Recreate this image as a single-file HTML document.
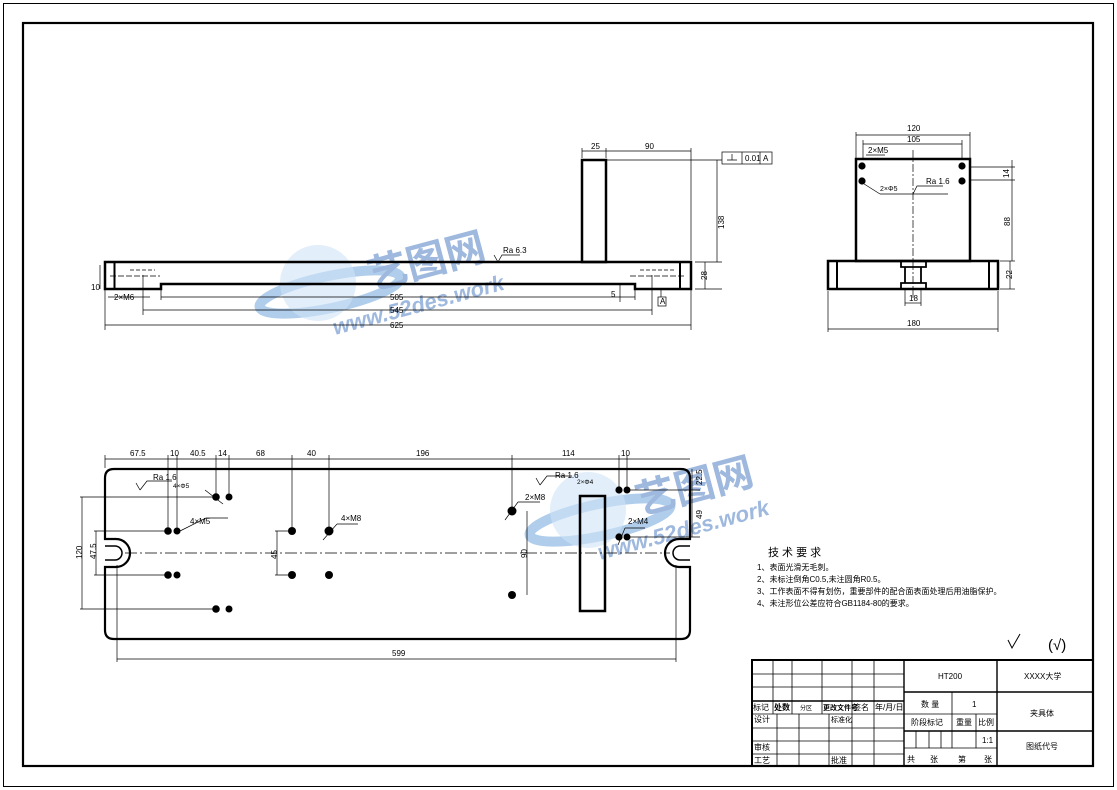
<!DOCTYPE html>
<html><head><meta charset="utf-8"><style>
html,body{margin:0;padding:0;background:#fff}
svg{display:block}
text{font-family:"Liberation Sans","Noto Sans CJK SC",sans-serif;fill:#000}
.t{font-size:8px}
.c{font-size:9px}
</style></head><body>
<svg width="1117" height="790" viewBox="0 0 1117 790" xmlns="http://www.w3.org/2000/svg">
<rect x="0" y="0" width="1117" height="790" fill="#fff"/>
<rect x="3.5" y="3.5" width="1110" height="783" fill="none" stroke="#000" stroke-width="1"/>
<rect x="23" y="23" width="1070" height="743" fill="none" stroke="#000" stroke-width="2.2"/>

<!-- watermark -->
<g opacity="0.55">
<ellipse cx="330" cy="292" rx="72" ry="16" fill="none" stroke="#6fa6dc" stroke-width="10" transform="rotate(-12 330 292)"/>
<circle cx="318" cy="283" r="38" fill="#a9cdf0" opacity="0.6"/>
<text x="372" y="290" font-size="40" fill="#4f7fc4" style="fill:#4f7fc4;font-weight:bold" transform="rotate(-15 372 290)">艺图网</text>
<text x="335" y="335" font-size="22" style="fill:#4f7fc4;font-weight:bold;font-style:italic" transform="rotate(-15 335 335)">www.52des.work</text>
<ellipse cx="600" cy="520" rx="72" ry="16" fill="none" stroke="#6fa6dc" stroke-width="10" transform="rotate(-12 600 520)"/>
<circle cx="588" cy="510" r="38" fill="#a9cdf0" opacity="0.6"/>
<text x="640" y="515" font-size="40" style="fill:#4f7fc4;font-weight:bold" transform="rotate(-15 640 515)">艺图网</text>
<text x="600" y="560" font-size="22" style="fill:#4f7fc4;font-weight:bold;font-style:italic" transform="rotate(-15 600 560)">www.52des.work</text>
</g>

<!-- FRONT VIEW -->
<g fill="none" stroke="#000">
<path d="M105 262 H691 V289 H635 V284 H161 V289 H105 Z" stroke-width="2.5"/>
<rect x="582" y="160" width="24" height="102" stroke-width="2.5"/>
<line x1="114.5" y1="262" x2="114.5" y2="289" stroke-width="2"/>
<line x1="680" y1="262" x2="680" y2="289" stroke-width="2"/>
<g stroke-width="0.7">
<line x1="105" y1="290" x2="105" y2="330"/><line x1="691" y1="290" x2="691" y2="330"/>
<line x1="105" y1="325" x2="691" y2="325"/>
<line x1="143" y1="275" x2="143" y2="315"/><line x1="652" y1="275" x2="652" y2="315"/>
<line x1="143" y1="310" x2="652" y2="310"/>
<line x1="161" y1="290" x2="161" y2="300"/><line x1="635" y1="290" x2="635" y2="300"/>
<line x1="161" y1="297" x2="635" y2="297"/>
<line x1="582" y1="148" x2="582" y2="158"/><line x1="606" y1="148" x2="606" y2="158"/><line x1="691" y1="148" x2="691" y2="260"/>
<line x1="582" y1="151" x2="691" y2="151"/>
<line x1="606" y1="160" x2="722" y2="160"/><line x1="695" y1="262" x2="722" y2="262"/><line x1="695" y1="289" x2="722" y2="289"/>
<line x1="717" y1="160" x2="717" y2="262"/><line x1="705" y1="262" x2="705" y2="289"/>
<line x1="100" y1="265" x2="100" y2="289"/>
<line x1="108" y1="297" x2="150" y2="297"/>
<line x1="130" y1="270" x2="155" y2="270" stroke-dasharray="4 2"/>
<line x1="640" y1="270" x2="675" y2="270" stroke-dasharray="4 2"/>
<line x1="110" y1="276" x2="160" y2="276" stroke-dasharray="6 2"/>
<line x1="630" y1="276" x2="685" y2="276" stroke-dasharray="6 2"/>
<line x1="620" y1="284" x2="620" y2="302"/>
<line x1="661" y1="289" x2="661" y2="297"/>
<rect x="658" y="297" width="8" height="9"/>
<path d="M498 262 L502 255 H520 M498 262 L494 255" />
<rect x="722" y="152" width="50" height="12"/>
<line x1="742" y1="152" x2="742" y2="164"/><line x1="760" y1="152" x2="760" y2="164"/>
<path d="M727 160 H737 M732 154 V160"/>
</g>
</g>
<g class="t">
<text x="591" y="149">25</text><text x="645" y="149">90</text>
<text x="711" y="228" transform="rotate(-90 718 222)">138</text>
<text x="699" y="280" transform="rotate(-90 703 276)">28</text>
<text x="91" y="290">10</text><text x="114" y="300">2×M6</text>
<text x="390" y="300">505</text><text x="390" y="313">545</text><text x="390" y="328">625</text>
<text x="611" y="297">5</text><text x="660" y="304">A</text>
<text x="503" y="253">Ra 6.3</text>
<text x="745" y="161">0.01</text><text x="763" y="161">A</text>
</g>

<!-- SIDE VIEW -->
<g fill="none" stroke="#000">
<rect x="856" y="159" width="114" height="102" stroke-width="2.5"/>
<rect x="828" y="261" width="170" height="28" stroke-width="2.5"/>
<line x1="837" y1="261" x2="837" y2="289" stroke-width="2"/>
<line x1="989" y1="261" x2="989" y2="289" stroke-width="2"/>
<path d="M901 261 V267 H926 V261 M905 267 V283 H901 V289 M921 267 V283 H926 V289 M901 283 H926" stroke-width="1.8"/>
<line x1="913" y1="150" x2="913" y2="300" stroke-width="0.7" stroke-dasharray="8 2 2 2"/>
<g stroke-width="0.7">
<line x1="856" y1="132" x2="856" y2="158"/><line x1="970" y1="132" x2="970" y2="158"/>
<line x1="856" y1="135" x2="970" y2="135"/>
<line x1="863" y1="140" x2="863" y2="160"/><line x1="962" y1="140" x2="962" y2="160"/>
<line x1="863" y1="144" x2="962" y2="144"/>
<line x1="828" y1="291" x2="828" y2="332"/><line x1="998" y1="291" x2="998" y2="332"/>
<line x1="828" y1="329" x2="998" y2="329"/>
<line x1="905" y1="290" x2="905" y2="306"/><line x1="921" y1="290" x2="921" y2="306"/><line x1="905" y1="303" x2="921" y2="303"/>
<line x1="970" y1="167" x2="1015" y2="167"/><line x1="970" y1="180" x2="1015" y2="180"/>
<line x1="1000" y1="261" x2="1015" y2="261"/><line x1="1000" y1="289" x2="1015" y2="289"/>
<line x1="1012" y1="160" x2="1012" y2="261"/><line x1="1010" y1="261" x2="1010" y2="289"/>
<line x1="866" y1="155" x2="885" y2="155"/>
<line x1="861" y1="182" x2="880" y2="194" /><line x1="880" y1="194" x2="948" y2="194"/>
<path d="M913 194 L917 186 H943" />
</g>
</g>
<g fill="#000">
<circle cx="862" cy="166" r="3.6"/><circle cx="862" cy="181" r="3.6"/>
<circle cx="962" cy="166" r="3.6"/><circle cx="962" cy="181" r="3.6"/>
</g>
<g class="t">
<text x="907" y="131">120</text><text x="907" y="142">105</text><text x="868" y="153">2×M5</text>
<text x="880" y="191" font-size="7">2×Φ5</text><text x="926" y="184">Ra 1.6</text>
<text x="1002" y="226" transform="rotate(-90 1006 222)">88</text>
<text x="1002" y="177" transform="rotate(-90 1006 174)">14</text>
<text x="1004" y="279" transform="rotate(-90 1008 275)">22</text>
<text x="909" y="301">18</text><text x="907" y="326">180</text>
</g>

<!-- BOTTOM VIEW -->
<g fill="none" stroke="#000">
<path d="M114 469 H681 Q690 469 690 478 V539 H679 A14 14 0 0 0 679 567 H690 V630 Q690 639 681 639 H114 Q105 639 105 630 V567 H116 A14 14 0 0 0 116 539 H105 V478 Q105 469 114 469 Z" stroke-width="2.2"/>
<path d="M105 546 H115 A7 7 0 0 1 115 560 H105 M690 546 H680 A7 7 0 0 0 680 560 H690" stroke-width="1.5"/>
<rect x="580" y="496" width="25" height="115" stroke-width="2.5"/>
<line x1="125" y1="553" x2="670" y2="553" stroke-width="0.7" stroke-dasharray="12 3 2 3"/>
<g stroke-width="0.7">
<line x1="105" y1="459" x2="690" y2="459"/>
<line x1="105" y1="455" x2="105" y2="468"/>
<line x1="168" y1="455" x2="168" y2="531"/><line x1="177" y1="455" x2="177" y2="531"/>
<line x1="216" y1="455" x2="216" y2="497"/><line x1="229" y1="455" x2="229" y2="497"/>
<line x1="292" y1="455" x2="292" y2="531"/><line x1="329" y1="455" x2="329" y2="531"/>
<line x1="512" y1="455" x2="512" y2="511"/><line x1="619" y1="455" x2="619" y2="490"/><line x1="627" y1="455" x2="627" y2="490"/>
<line x1="117" y1="565" x2="117" y2="662"/><line x1="676" y1="565" x2="676" y2="662"/>
<line x1="117" y1="659" x2="676" y2="659"/>
<line x1="80" y1="497" x2="216" y2="497"/><line x1="80" y1="609" x2="216" y2="609"/><line x1="82" y1="497" x2="82" y2="609"/>
<line x1="94" y1="531" x2="168" y2="531"/><line x1="94" y1="575" x2="168" y2="575"/><line x1="96" y1="531" x2="96" y2="575"/>
<line x1="275" y1="531" x2="292" y2="531"/><line x1="275" y1="575" x2="292" y2="575"/><line x1="277" y1="531" x2="277" y2="575"/>
<line x1="527" y1="511" x2="527" y2="595"/>
<line x1="630" y1="490" x2="700" y2="490"/><line x1="630" y1="537" x2="700" y2="537"/><line x1="692" y1="469" x2="692" y2="537"/>
<path d="M140 490 L147 481 H172 M140 490 L136 483"/>
<path d="M540 485 L547 476 H572 M540 485 L536 478"/>
<line x1="180" y1="531" x2="206" y2="518"/><line x1="206" y1="518" x2="228" y2="518"/>
<line x1="323" y1="540" x2="337" y2="524"/><line x1="337" y1="524" x2="358" y2="524"/>
<line x1="505" y1="520" x2="518" y2="502"/><line x1="518" y1="502" x2="540" y2="502"/>
<line x1="618" y1="545" x2="625" y2="528"/><line x1="625" y1="528" x2="645" y2="528"/>
<line x1="205" y1="490" x2="223" y2="504"/>
</g>
</g>
<g fill="#000">
<circle cx="216" cy="497" r="3.8"/><circle cx="229" cy="497" r="3.5"/>
<circle cx="168" cy="531" r="3.8"/><circle cx="177" cy="531" r="3.5"/>
<circle cx="168" cy="575" r="3.8"/><circle cx="177" cy="575" r="3.5"/>
<circle cx="216" cy="609" r="3.8"/><circle cx="229" cy="609" r="3.5"/>
<circle cx="292" cy="531" r="4"/><circle cx="292" cy="575" r="4"/>
<circle cx="329" cy="531" r="4.5"/><circle cx="329" cy="575" r="4"/>
<circle cx="512" cy="511" r="4.5"/><circle cx="512" cy="595" r="4"/>
<circle cx="619" cy="490" r="3.6"/><circle cx="627" cy="490" r="3.5"/>
<circle cx="619" cy="537" r="3.6"/><circle cx="627" cy="537" r="3.5"/>
</g>
<g class="t">
<text x="130" y="456">67.5</text><text x="170" y="456">10</text><text x="190" y="456">40.5</text><text x="218" y="456">14</text>
<text x="256" y="456">68</text><text x="307" y="456">40</text><text x="416" y="456">196</text>
<text x="562" y="456">114</text><text x="621" y="456">10</text>
<text x="153" y="480">Ra 1.6</text><text x="173" y="488" font-size="6.5">4×Φ5</text>
<text x="190" y="524">4×M5</text><text x="341" y="521">4×M8</text>
<text x="525" y="500">2×M8</text><text x="555" y="478">Ra 1.6</text><text x="577" y="484" font-size="6.5">2×Φ4</text>
<text x="628" y="524">2×M4</text>
<text x="392" y="656">599</text>
<text x="72" y="557" transform="rotate(-90 78 553)">120</text>
<text x="86" y="557" transform="rotate(-90 92 553)">47.5</text>
<text x="267" y="557" transform="rotate(-90 273 553)">45</text>
<text x="518" y="557" transform="rotate(-90 523 553)">90</text>
<text x="693" y="484" transform="rotate(-90 698 480)">22.5</text>
<text x="693" y="518" transform="rotate(-90 698 514)">49</text>
</g>

<!-- tech requirements -->
<g>
<text x="768" y="556" style="font-size:11px">技 术 要 求</text>
<text x="757" y="570" class="t">1、表面光滑无毛刺。</text>
<text x="757" y="582" class="t">2、未标注倒角C0.5,未注圆角R0.5。</text>
<text x="757" y="594" class="t">3、工作表面不得有划伤，重要部件的配合面表面处理后用油脂保护。</text>
<text x="757" y="606" class="t">4、未注形位公差应符合GB1184-80的要求。</text>
<path d="M1008 640 L1012 648 L1020 634" fill="none" stroke="#000" stroke-width="1"/>
<text x="1048" y="650" style="font-size:15px">(√)</text>
</g>

<!-- TITLE BLOCK -->
<g fill="none" stroke="#000" stroke-width="0.8">
<rect x="752" y="660" width="341" height="106" stroke-width="2"/>
<line x1="904" y1="660" x2="904" y2="766" stroke-width="1.4"/>
<line x1="997" y1="660" x2="997" y2="766" stroke-width="1.4"/>
<line x1="752" y1="674" x2="904" y2="674"/><line x1="752" y1="687" x2="904" y2="687"/>
<line x1="752" y1="701" x2="904" y2="701" stroke-width="1.4"/><line x1="752" y1="714" x2="904" y2="714"/>
<line x1="752" y1="728" x2="904" y2="728"/><line x1="752" y1="741" x2="904" y2="741"/><line x1="752" y1="754" x2="904" y2="754"/>
<line x1="773" y1="660" x2="773" y2="714"/><line x1="792" y1="660" x2="792" y2="714"/><line x1="822" y1="660" x2="822" y2="714"/>
<line x1="852" y1="660" x2="852" y2="766"/><line x1="874" y1="660" x2="874" y2="766"/>
<line x1="777" y1="714" x2="777" y2="766"/><line x1="799" y1="714" x2="799" y2="766"/><line x1="829" y1="714" x2="829" y2="766"/>
<line x1="904" y1="692" x2="1093" y2="692" stroke-width="1.4"/>
<line x1="904" y1="714" x2="997" y2="714"/><line x1="904" y1="731" x2="1093" y2="731" stroke-width="1.4"/>
<line x1="904" y1="748" x2="997" y2="748"/>
<line x1="952" y1="692" x2="952" y2="748"/><line x1="976" y1="714" x2="976" y2="748"/>
<line x1="916" y1="731" x2="916" y2="748"/><line x1="929" y1="731" x2="929" y2="748"/><line x1="941" y1="731" x2="941" y2="748"/>
</g>
<g class="t">
<text x="938" y="679">HT200</text><text x="1024" y="679">XXXX大学</text>
<text x="921" y="707">数 量</text><text x="972" y="707">1</text>
<text x="1030" y="716">夹具体</text>
<text x="911" y="725">阶段标记</text><text x="956" y="725">重量</text><text x="978" y="725">比例</text>
<text x="982" y="743">1:1</text><text x="1026" y="749">图纸代号</text>
<text x="907" y="762">共</text><text x="930" y="762">张</text><text x="958" y="762">第</text><text x="984" y="762">张</text>
<text x="753" y="710">标记</text><text x="774" y="710" style="font-weight:bold">处数</text><text x="800" y="710" font-size="6">分区</text>
<text x="823" y="710" style="font-weight:bold" font-size="7">更改文件号</text><text x="853" y="710">签名</text><text x="875" y="710">年/月/日</text>
<text x="754" y="722">设计</text><text x="831" y="722" font-size="7">标准化</text>
<text x="754" y="750">审核</text><text x="754" y="763">工艺</text><text x="831" y="763">批准</text>
</g>
</svg>
</body></html>
